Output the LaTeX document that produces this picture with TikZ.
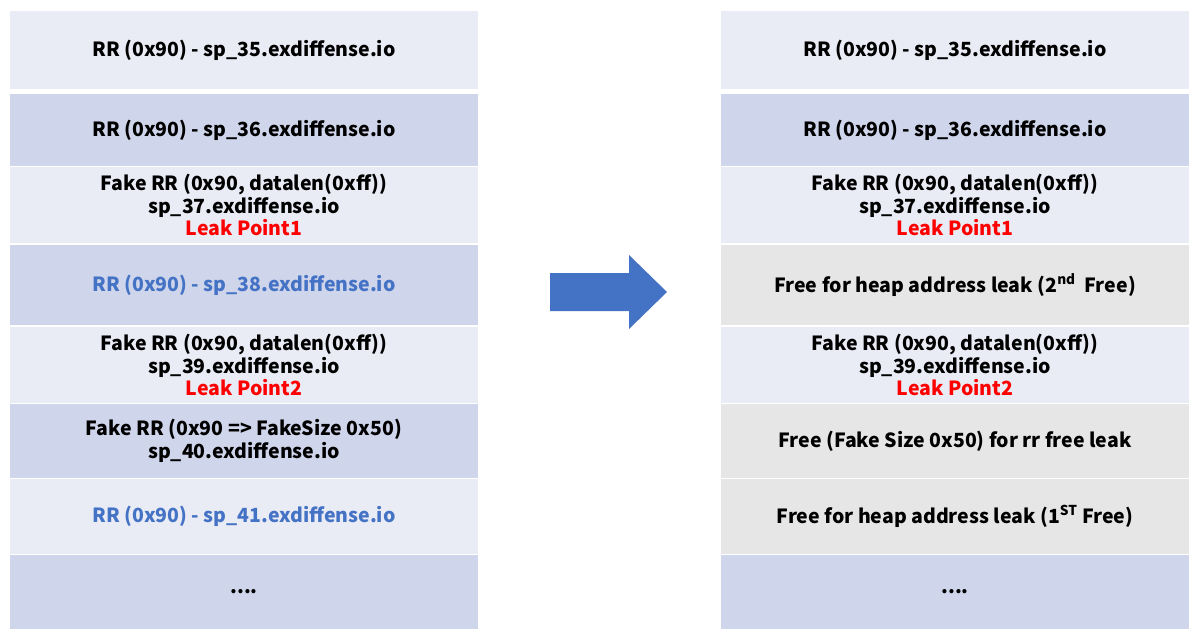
\documentclass[tikz,border=0pt]{standalone}
\usepackage{fontspec}
\setmainfont{Noto Sans CJK KR}
\definecolor{lite}{HTML}{E9EBF5}
\definecolor{dark}{HTML}{CFD5EA}
\definecolor{freed}{HTML}{E7E6E6}
\definecolor{accent}{HTML}{4472C4}
\begin{document}
\begin{tikzpicture}[x=1pt, y=-1pt,
		cell/.style={anchor=north, inner sep=0, outer sep=0, minimum width=468,
				align=center, font=\fontsize{19.5}{22.5}\selectfont\bfseries}]
	\useasboundingbox[fill=white] (0,0) rectangle (1198,643);

	% before
	\node[cell, fill=lite, minimum height=78] (l1) at (244,11) {RR (0x90) - sp\_35.exdiffense.io};
	\node[cell, fill=dark, minimum height=72] (l2) at (244,94) {RR (0x90) - sp\_36.exdiffense.io};
	\node[cell, fill=lite, minimum height=76] (l3) at (244,167) {Fake RR (0x90, datalen(0xff))\\sp\_37.exdiffense.io\\\textcolor{red}{Leak Point1}};
	\node[cell, fill=dark, minimum height=80, text=accent] (l4) at (244,245) {RR (0x90) - sp\_38.exdiffense.io};
	\node[cell, fill=lite, minimum height=76] (l5) at (244,327) {Fake RR (0x90, datalen(0xff))\\sp\_39.exdiffense.io\\\textcolor{red}{Leak Point2}};
	\node[cell, fill=dark, minimum height=74] (l6) at (244,404) {Fake RR (0x90 =\textgreater{} FakeSize 0x50)\\sp\_40.exdiffense.io};
	\node[cell, fill=lite, minimum height=75, text=accent] (l7) at (244,479) {RR (0x90) - sp\_41.exdiffense.io};
	\node[cell, fill=dark, minimum height=74] (l8) at (244,555) {....};

	% block arrow
	\fill[accent] (550,273) -- (629,273) -- (629,255) -- (667,292) -- (629,329)
		-- (629,311) -- (550,311) -- cycle;

	% after
	\node[cell, fill=lite, minimum height=78] (r1) at (955,11) {RR (0x90) - sp\_35.exdiffense.io};
	\node[cell, fill=dark, minimum height=72] (r2) at (955,94) {RR (0x90) - sp\_36.exdiffense.io};
	\node[cell, fill=lite, minimum height=76] (r3) at (955,167) {Fake RR (0x90, datalen(0xff))\\sp\_37.exdiffense.io\\\textcolor{red}{Leak Point1}};
	\node[cell, fill=freed, minimum height=80] (r4) at (955,245) {Free for heap address leak (2\textsuperscript{nd}~ Free)};
	\node[cell, fill=lite, minimum height=76] (r5) at (955,327) {Fake RR (0x90, datalen(0xff))\\sp\_39.exdiffense.io\\\textcolor{red}{Leak Point2}};
	\node[cell, fill=freed, minimum height=74] (r6) at (955,404) {Free (Fake Size 0x50) for rr free leak};
	\node[cell, fill=freed, minimum height=75] (r7) at (955,479) {Free for heap address leak (1\textsuperscript{ST} Free)};
	\node[cell, fill=dark, minimum height=74] (r8) at (955,555) {....};
\end{tikzpicture}
\end{document}
